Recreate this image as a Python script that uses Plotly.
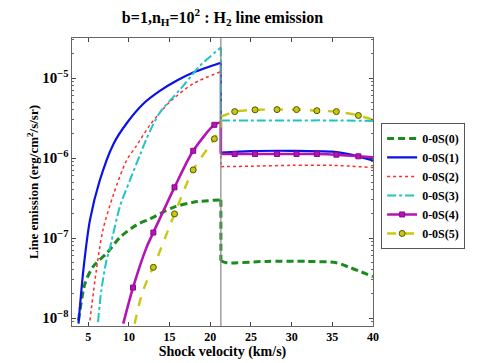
import plotly.graph_objects as go

# ---- data ----
V_CRIT = 21.3  # critical velocity (vertical line)

s0_v = [3.8, 4.6, 5.6, 7.3, 8.9, 10.9, 12.6, 15.4, 17.9, 21.3, 21.3, 22.0, 26.9, 31.8, 35.5, 37.1, 40.0]
s0_y = [9.3e-9, 2.7e-8, 4.4e-8, 6.5e-8, 1.02e-7, 1.45e-7, 1.74e-7, 2.4e-7, 2.8e-7, 3.0e-7,
        5.2e-8, 4.9e-8, 5.1e-8, 5.1e-8, 4.9e-8, 4.3e-8, 3.3e-8]

s1_v = [3.8, 4.4, 5.2, 6.4, 8.1, 9.7, 11.8, 13.8, 15.9, 17.9, 21.3, 21.3, 25.0, 30.0, 35.0, 37.0, 40.0]
s1_y = [8.5e-9, 4.0e-8, 1.66e-7, 5.2e-7, 1.5e-6, 2.7e-6, 4.8e-6, 6.9e-6, 9.3e-6, 1.17e-5, 1.55e-5,
        1.17e-6, 1.22e-6, 1.23e-6, 1.2e-6, 1.12e-6, 9.3e-7]

s2_v = [5.2, 6.0, 6.8, 8.1, 9.7, 10.9, 12.6, 15.0, 17.9, 21.3, 21.3, 25.0, 30.0, 35.0, 40.0]
s2_y = [9.3e-9, 4.0e-8, 1.26e-7, 3.5e-7, 9.3e-7, 1.41e-6, 2.6e-6, 5.0e-6, 8.5e-6, 1.2e-5,
        7.8e-7, 7.9e-7, 8.1e-7, 8.1e-7, 7.6e-7]

s3_v = [6.2, 6.6, 7.2, 7.7, 8.9, 10.1, 11.4, 12.2, 13.8, 16.3, 18.7, 21.3, 21.3, 25.0, 30.0, 35.0, 40.0]
s3_y = [8.9e-9, 2.2e-8, 5.0e-8, 7.8e-8, 2.5e-7, 5.2e-7, 1.12e-6, 1.78e-6, 3.7e-6, 7.2e-6, 1.41e-5, 2.4e-5,
        2.95e-6, 2.95e-6, 2.95e-6, 2.95e-6, 2.9e-6]

s4_v = [9.3, 10.5, 12.2, 13.0, 15.6, 17.9, 20.5, 21.3, 21.3, 23.0, 25.5, 28.2, 30.6, 33.1, 35.5, 38.2, 40.0]
s4_y = [8.5e-9, 2.4e-8, 7.8e-8, 1.17e-7, 4.3e-7, 1.23e-6, 2.6e-6, 2.8e-6,
        1.12e-6, 1.12e-6, 1.12e-6, 1.12e-6, 1.12e-6, 1.12e-6, 1.1e-6, 1.05e-6, 1.02e-6]
s4_marks = [10.5, 13.0, 15.6, 17.9, 20.5, 23.0, 25.5, 28.2, 30.6, 33.1, 35.5, 38.2]

s5_v = [10.7, 11.6, 12.6, 13.0, 15.6, 17.9, 20.5, 21.3, 21.3, 23.0, 25.5, 28.2, 30.6, 33.1, 35.5, 38.2, 40.0]
s5_y = [8.5e-9, 2.0e-8, 3.6e-8, 4.3e-8, 2.0e-7, 7.1e-7, 1.74e-6, 2.4e-6,
        3.3e-6, 3.8e-6, 4.0e-6, 4.03e-6, 4.03e-6, 3.9e-6, 3.8e-6, 3.4e-6, 3.0e-6]
s5_marks = [13.0, 15.6, 17.9, 20.5, 23.0, 25.5, 28.2, 30.6, 33.1, 35.5, 38.2]

names = ["0-0S(0)", "0-0S(1)", "0-0S(2)", "0-0S(3)", "0-0S(4)", "0-0S(5)"]
x_ticks = [5, 10, 15, 20, 25, 30, 35, 40]

SERIF = '"Liberation Serif", "Times New Roman", "DejaVu Serif", serif'

fig = go.Figure()


def pick(vs, ys, marks):
    mx, my = [], []
    for m in marks:
        for v, y in zip(vs, ys):
            if abs(v - m) < 1e-9:
                mx.append(v)
                my.append(y)
                break
    return mx, my


def add_series(vs, ys, name, line, marker=None, marks=None):
    # split at the jump (the repeated velocity): smooth before & after, straight drop between
    j = next(i for i in range(1, len(vs)) if vs[i] == vs[i - 1])
    segs = [(vs[:j], ys[:j], "spline"), (vs[j - 1:j + 1], ys[j - 1:j + 1], "linear"),
            (vs[j:], ys[j:], "spline")]
    for sx, sy, shape in segs:
        fig.add_trace(go.Scatter(x=sx, y=sy, mode="lines", legendgroup=name, showlegend=False,
                                 line=dict(shape=shape, smoothing=0.8, **line)))
    if marker is not None:
        mx, my = pick(vs, ys, marks)
        fig.add_trace(go.Scatter(x=mx, y=my, mode="markers", legendgroup=name, showlegend=False,
                                 marker=marker))
        fig.add_trace(go.Scatter(x=[None], y=[None], mode="lines+markers", name=name,
                                 legendgroup=name, line=line, marker=marker))
    else:
        fig.add_trace(go.Scatter(x=[None], y=[None], mode="lines", name=name,
                                 legendgroup=name, line=line))


add_series(s0_v, s0_y, names[0], dict(color="#1c8a1c", width=3, dash="7px,4px"))
add_series(s1_v, s1_y, names[1], dict(color="#0a12e6", width=2.2))
add_series(s2_v, s2_y, names[2], dict(color="#ff2a2a", width=1.5, dash="dot"))
add_series(s3_v, s3_y, names[3], dict(color="#20c4c4", width=2, dash="dashdot"))
add_series(s4_v, s4_y, names[4], dict(color="#b414b4", width=2.6),
           marker=dict(symbol="square", size=5, color="#b414b4", line=dict(color="#8a0a8a", width=1)),
           marks=s4_marks)
add_series(s5_v, s5_y, names[5], dict(color="#c8c814", width=2.4, dash="dash"),
           marker=dict(symbol="circle", size=6, color="#c8c814", line=dict(color="#555500", width=1)),
           marks=s5_marks)

fig.add_vline(x=V_CRIT, line=dict(color="#888888", width=1.2))

axis_common = dict(showline=True, linecolor="#666666", linewidth=1, mirror="ticks",
                   ticks="inside", ticklen=4, tickcolor="#444444", showgrid=False, zeroline=False,
                   automargin=False,
                   tickfont=dict(family=SERIF, size=12, color="black", weight="bold"))

fig.update_xaxes(range=[3, 40], tickvals=x_ticks,
                 title=dict(text="Shock velocity (km/s)", standoff=2,
                            font=dict(family=SERIF, size=14, color="black", weight="bold")),
                 **axis_common)
fig.update_yaxes(type="log", range=[-8.1, -4.5], dtick=1, exponentformat="power",
                 minor=dict(ticks="inside", ticklen=2, tickcolor="#666666", showgrid=False),
                 title=dict(text="Line emission (erg/cm<sup>2</sup>/s/sr)", standoff=0,
                            font=dict(family=SERIF, size=13, color="black", weight="bold")),
                 **axis_common)

fig.update_layout(
    width=480, height=363,
    margin=dict(l=72, r=107, t=38, b=37),
    paper_bgcolor="white", plot_bgcolor="white",
    title=dict(text="b=1,n<sub>H</sub>=10<sup>2</sup> : H<sub>2</sub> line emission",
               x=0.5, xref="paper", xanchor="center", y=0.952, yanchor="middle",
               font=dict(family=SERIF, size=16, color="black", weight="bold")),
    legend=dict(x=1.027, y=0.705, xanchor="left", yanchor="top",
                bordercolor="#555555", borderwidth=1, bgcolor="white",
                font=dict(family=SERIF, size=12, color="black", weight="bold"),
                itemwidth=30, tracegroupgap=0),
    showlegend=True,
)

fig.write_html("out.html", config={"displayModeBar": False},
               post_script="document.body.style.margin='0px';document.body.style.overflow='hidden';")
